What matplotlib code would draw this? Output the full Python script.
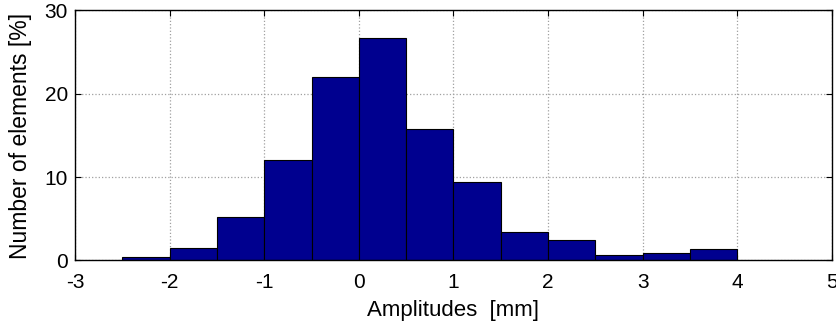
import matplotlib
matplotlib.use('Agg')
from matplotlib import pyplot as plt
import numpy as np

# histogram bins (left edges, width 0.5) and percentages
bin_left = [-2.5, -2.0, -1.5, -1.0, -0.5, 0.0, 0.5, 1.0, 1.5, 2.0, 2.5, 3.0, 3.5]
percent = [0.45, 1.5, 5.25, 12.1, 22.05, 26.7, 15.75, 9.45, 3.4, 2.4, 0.65, 0.85, 1.35]
bin_width = 0.5

x_ticks = [-3, -2, -1, 0, 1, 2, 3, 4, 5]
y_ticks = [0, 10, 20, 30]

plt.rcParams['font.family'] = ['Liberation Sans', 'DejaVu Sans']
plt.rcParams['axes.unicode_minus'] = False

fig = plt.figure(figsize=(8.37, 3.26), dpi=100)
ax = fig.add_axes([0.0896, 0.201, 0.9044, 0.767])

ax.bar(bin_left, percent, width=bin_width, align='edge',
       color='#00008F', edgecolor='black', linewidth=0.8, zorder=2)

ax.set_xlim(-3, 5)
ax.set_ylim(0, 30)
ax.set_xticks(x_ticks)
ax.set_yticks(y_ticks)
ax.grid(True, color='#a0a0a0', linestyle=':', linewidth=0.9, zorder=0)
ax.set_axisbelow(True)
ax.tick_params(direction='in', length=4, width=0.8, labelsize=15,
               top=True, right=True)
ax.tick_params(axis='x', pad=9)
ax.tick_params(axis='y', pad=5)
for s in ax.spines.values():
    s.set_linewidth(1.0)

ax.set_xlabel('Amplitudes  [mm]', fontsize=16, labelpad=6)
ax.set_ylabel('Number of elements [%]', fontsize=16.5, labelpad=9)

plt.savefig('out.png', dpi=100)
